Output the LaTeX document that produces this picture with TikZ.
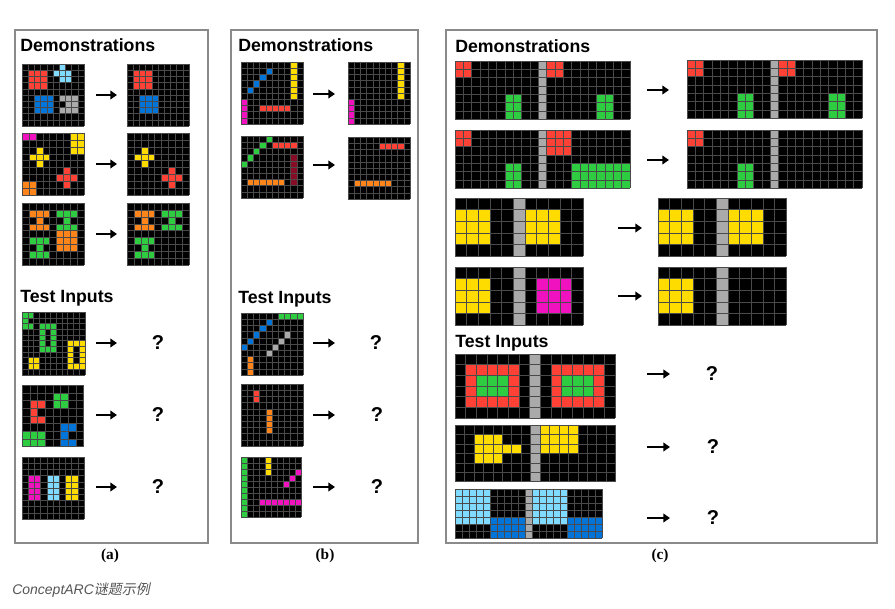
\documentclass[tikz,border=0pt]{standalone}
\usepackage{fontspec}
\setmainfont{Liberation Sans}
\newfontfamily\serifbf{Liberation Serif}
\newfontfamily\cjk[FakeSlant=0.2]{Noto Sans CJK SC}
\usetikzlibrary{arrows.meta}
\definecolor{arcB}{HTML}{0074D9}
\definecolor{arcR}{HTML}{FF4136}
\definecolor{arcG}{HTML}{2ECC40}
\definecolor{arcY}{HTML}{FFDC00}
\definecolor{arcGr}{HTML}{AAAAAA}
\definecolor{arcM}{HTML}{F012BE}
\definecolor{arcO}{HTML}{FF851B}
\definecolor{arcC}{HTML}{7FDBFF}
\definecolor{arcMr}{HTML}{870C25}
\definecolor{gridgray}{HTML}{4A4A4A}
\definecolor{framegray}{HTML}{8A8A8A}
\definecolor{capgray}{HTML}{555555}
\tikzset{
  gline/.style={draw=gridgray, line width=0.28pt},
  framebox/.style={draw=framegray, line width=0.8pt},
  title/.style={anchor=base west, inner sep=0pt, font=\fontsize{13.3}{16}\selectfont\bfseries},
  arr/.style={line width=1.7pt, -{Triangle[length=5pt,width=6.5pt]}},
  qm/.style={font=\fontsize{15}{18}\selectfont\bfseries, inner sep=0pt},
  plab/.style={font=\serifbf\bfseries\fontsize{11.5}{14}\selectfont, inner sep=0pt},
}
\newcommand\cl[2]{\foreach \xx/\yy in {#2} {\fill[#1] (\xx,\yy) rectangle ++(1,1);}}
\newcommand\bk[5]{\fill[#1] (#2,#3) rectangle ++(#4,#5);}
\newcommand\arcgrid[6]{%
  \begin{scope}[shift={(#1,#2)}, x=#3, y=-#3]
    \fill[black] (0,0) rectangle (#4,#5);
    #6
    \foreach \ii in {0,...,#4} {\draw[gline] (\ii,0) -- (\ii,#5);}
    \foreach \jj in {0,...,#5} {\draw[gline] (0,\jj) -- (#4,\jj);}
  \end{scope}}
\newcommand\arrowpair[4]{%
  \coordinate (#1-s) at (#2,#4);
  \coordinate (#1-e) at (#3,#4);
  \draw[arr] (#1-s) -- (#1-e);}
\begin{document}
\begin{tikzpicture}[x=0.75pt,y=-0.75pt]
\useasboundingbox (0,0) rectangle (895,609);
\fill[white] (0,0) rectangle (895,609);
% frames
\draw[framebox] (15,30) rectangle (208,543);
\draw[framebox] (231,30) rectangle (418,543);
\draw[framebox] (446,30) rectangle (877,543);
% titles
\node[title] (ta1) at (20,52) {Demonstrations};
\node[title] (ta2) at (20,303) {Test Inputs};
\node[title] (tb1) at (238,52) {Demonstrations};
\node[title] (tb2) at (238,304) {Test Inputs};
\node[title] (tc1) at (455,53) {Demonstrations};
\node[title] (tc2) at (455,348) {Test Inputs};
% ---------- panel (a)
\arcgrid{22}{64}{4.65pt}{10}{10}{\bk{arcR}{1}{1}{3}{3}\cl{arcC}{6/0,5/1,6/1,7/1,6/2,7/2}\bk{arcB}{2}{5}{3}{3}\cl{arcGr}{6/5,7/5,8/5,7/6,8/6,6/7,7/7,8/7}}
\arcgrid{127}{64}{4.65pt}{10}{10}{\bk{arcR}{1}{1}{3}{3}\bk{arcB}{2}{5}{3}{3}}
\arcgrid{22}{133}{5.175pt}{9}{9}{\bk{arcM}{0}{0}{2}{1}\bk{arcY}{7}{0}{2}{3}\cl{arcY}{2/2,1/3,2/3,3/3,2/4}\cl{arcR}{6/5,5/6,6/6,7/6,6/7}\bk{arcO}{0}{7}{2}{2}}
\arcgrid{127}{133}{5.175pt}{9}{9}{\cl{arcY}{2/2,1/3,2/3,3/3,2/4}\cl{arcR}{6/5,5/6,6/6,7/6,6/7}}
\arcgrid{22}{203}{5.175pt}{9}{9}{\cl{arcO}{1/1,2/1,3/1,2/2,1/3,2/3,3/3}\cl{arcG}{5/1,6/1,7/1,6/2,5/3,6/3,7/3}\bk{arcO}{5}{4}{3}{3}\cl{arcG}{1/5,2/5,3/5,2/6,1/7,2/7,3/7}}
\arcgrid{127}{203}{5.175pt}{9}{9}{\cl{arcO}{1/1,2/1,3/1,2/2,1/3,2/3,3/3}\cl{arcG}{5/1,6/1,7/1,6/2,5/3,6/3,7/3}\cl{arcG}{1/5,2/5,3/5,2/6,1/7,2/7,3/7}}
\arrowpair{aa1}{96}{117}{95}
\arrowpair{aa2}{96}{117}{164}
\arrowpair{aa3}{96}{117}{234}
\arcgrid{22}{312}{4.275pt}{11}{11}{\cl{arcG}{0/0,1/0,0/1,0/2,1/2}\bk{arcG}{3}{2}{3}{5}\bk{black}{4}{3}{1}{3}\bk{arcY}{8}{5}{3}{5}\bk{black}{9}{6}{1}{3}\bk{arcY}{1}{8}{2}{2}}
\arcgrid{22}{385}{5.775pt}{8}{8}{\bk{arcG}{4}{1}{2}{2}\cl{arcR}{1/2,2/2,1/3,1/4,2/4}\bk{arcG}{0}{6}{3}{2}\cl{arcB}{5/5,6/5,5/6,5/7,6/7}}
\arcgrid{22}{457}{4.65pt}{10}{10}{\bk{arcM}{1}{3}{2}{4}\bk{arcC}{4}{3}{2}{4}\bk{arcY}{7}{3}{2}{4}}
\arrowpair{aa4}{96}{117}{343}
\arrowpair{aa5}{96}{117}{415}
\arrowpair{aa6}{96}{117}{487}
\node[qm] (qa1) at (158,343) {?};
\node[qm] (qa2) at (158,415) {?};
\node[qm] (qa3) at (158,487) {?};
% ---------- panel (b)
\arcgrid{241}{62}{4.65pt}{10}{10}{\cl{arcB}{4/1,3/2,2/3,1/4}\bk{arcY}{8}{0}{1}{6}\bk{arcM}{0}{6}{1}{4}\bk{arcR}{3}{7}{5}{1}}
\arcgrid{348}{62}{4.65pt}{10}{10}{\bk{arcY}{8}{0}{1}{6}\bk{arcM}{0}{6}{1}{4}}
\arcgrid{241}{136}{4.65pt}{10}{10}{\cl{arcG}{4/0,3/1,2/2,1/3,0/4}\bk{arcR}{5}{1}{4}{1}\bk{arcMr}{8}{3}{1}{5}\bk{arcO}{1}{7}{6}{1}}
\arcgrid{348}{137}{4.65pt}{10}{10}{\bk{arcR}{5}{1}{4}{1}\bk{arcO}{1}{7}{6}{1}}
\arrowpair{ab1}{313}{335}{94}
\arrowpair{ab2}{313}{335}{165}
\arcgrid{241}{313}{4.65pt}{10}{10}{\bk{arcG}{6}{0}{4}{1}\cl{arcB}{4/1,3/2,2/3,1/4,0/5}\cl{arcGr}{7/3,6/4,5/5,4/6}\bk{arcO}{1}{7}{1}{3}}
\arcgrid{241}{384}{4.65pt}{10}{10}{\bk{arcR}{2}{1}{1}{2}\bk{arcO}{4}{4}{1}{4}}
\arcgrid{241}{457}{4.5pt}{10}{10}{\bk{arcG}{0}{0}{1}{10}\bk{arcY}{4}{0}{1}{3}\cl{arcM}{9/2,8/3,7/4}\bk{arcM}{3}{7}{7}{1}}
\arrowpair{ab3}{313}{335}{343}
\arrowpair{ab4}{313}{335}{415}
\arrowpair{ab5}{313}{335}{487}
\node[qm] (qb1) at (376,343) {?};
\node[qm] (qb2) at (377,415) {?};
\node[qm] (qb3) at (377,487) {?};
% ---------- panel (c)
\arcgrid{455}{61}{6.25pt}{21}{7}{\bk{arcR}{0}{0}{2}{2}\bk{arcG}{6}{4}{2}{3}\bk{arcGr}{10}{0}{1}{7}\bk{arcR}{11}{0}{2}{2}\bk{arcG}{17}{4}{2}{3}}
\arcgrid{687}{60}{6.25pt}{21}{7}{\bk{arcR}{0}{0}{2}{2}\bk{arcG}{6}{4}{2}{3}\bk{arcGr}{10}{0}{1}{7}\bk{arcR}{11}{0}{2}{2}\bk{arcG}{17}{4}{2}{3}}
\arcgrid{455}{130}{6.25pt}{21}{7}{\bk{arcR}{0}{0}{2}{2}\bk{arcG}{6}{4}{2}{3}\bk{arcGr}{10}{0}{1}{7}\bk{arcR}{11}{0}{3}{3}\bk{arcG}{14}{4}{7}{3}}
\arcgrid{687}{130}{6.25pt}{21}{7}{\bk{arcR}{0}{0}{2}{2}\bk{arcG}{6}{4}{2}{3}\bk{arcGr}{10}{0}{1}{7}}
\arrowpair{ac1}{647}{669}{90}
\arrowpair{ac2}{647}{669}{160}
\arcgrid{455}{198}{8.75pt}{11}{5}{\bk{arcY}{0}{1}{3}{3}\bk{arcGr}{5}{0}{1}{5}\bk{arcY}{6}{1}{3}{3}}
\arcgrid{658}{198}{8.75pt}{11}{5}{\bk{arcY}{0}{1}{3}{3}\bk{arcGr}{5}{0}{1}{5}\bk{arcY}{6}{1}{3}{3}}
\arcgrid{455}{267}{8.75pt}{11}{5}{\bk{arcY}{0}{1}{3}{3}\bk{arcGr}{5}{0}{1}{5}\bk{arcM}{7}{1}{3}{3}}
\arcgrid{658}{267}{8.75pt}{11}{5}{\bk{arcY}{0}{1}{3}{3}\bk{arcGr}{5}{0}{1}{5}}
\arrowpair{ac3}{618}{642}{228}
\arrowpair{ac4}{618}{642}{296}
\arcgrid{455}{354}{8pt}{15}{6}{\bk{arcR}{1}{1}{5}{4}\bk{arcG}{2}{2}{3}{2}\bk{arcGr}{7}{0}{1}{6}\bk{arcR}{9}{1}{5}{4}\bk{arcG}{10}{2}{3}{2}}
\arcgrid{455}{425}{7.08pt}{17}{6}{\bk{arcY}{2}{1}{3}{3}\bk{arcY}{5}{2}{2}{1}\bk{arcGr}{8}{0}{1}{6}\bk{arcY}{9}{0}{4}{3}}
\arcgrid{455}{489}{5.25pt}{21}{7}{\bk{arcC}{0}{0}{5}{5}\bk{arcB}{5}{4}{5}{3}\bk{arcGr}{10}{0}{1}{7}\bk{arcC}{11}{0}{5}{5}\bk{arcB}{16}{4}{5}{3}}
\arrowpair{ac5}{647}{670}{374}
\arrowpair{ac6}{647}{670}{447}
\arrowpair{ac7}{647}{670}{518}
\node[qm] (qc1) at (712,374) {?};
\node[qm] (qc2) at (713,447) {?};
\node[qm] (qc3) at (713,518) {?};
% labels
\node[plab] (la) at (110,556) {(a)};
\node[plab] (lb) at (325,556) {(b)};
\node[plab] (lc) at (660,556) {(c)};
\node[anchor=base west, inner sep=0pt, text=capgray, font=\fontsize{10.5}{12}\selectfont\itshape] (cap) at (12,594) {ConceptARC{\cjk 谜题示例}};
\end{tikzpicture}
\end{document}
